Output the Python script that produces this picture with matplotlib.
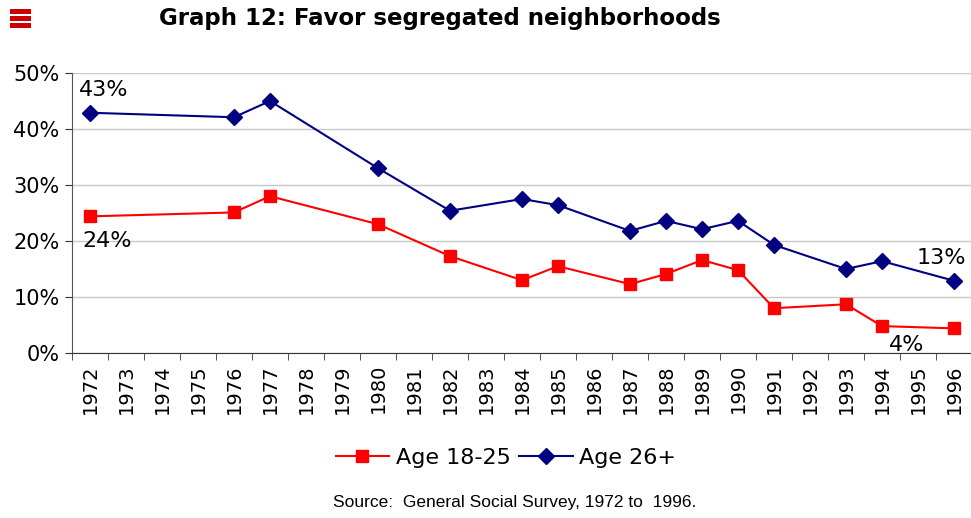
import numpy as np
import matplotlib.pyplot as plt
from matplotlib.patches import Rectangle

# Dados
anos = [str(a) for a in range(1972, 1997)]
anos_pesquisa = [1972, 1976, 1977, 1980, 1982, 1984, 1985, 1987, 1988,
                 1989, 1990, 1991, 1993, 1994, 1996]
idade_18_25 = [24.4, 25.1, 28.0, 23.0, 17.3, 13.0, 15.5, 12.3, 14.1,
               16.6, 14.8, 8.0, 8.7, 4.8, 4.4]
idade_26_mais = [42.9, 42.1, 45.0, 33.0, 25.4, 27.5, 26.4, 21.8, 23.6,
                 22.1, 23.6, 19.3, 15.0, 16.4, 12.9]

x = [a - 1972 for a in anos_pesquisa]

fig = plt.figure(figsize=(9.71, 5.18), dpi=100)
ax = fig.add_axes([72 / 971, 1 - 353 / 518, 900 / 971, 280 / 518])

ax.plot(x, idade_18_25, color='#ff0000', marker='s', markersize=8.5,
        linewidth=1.5, label='Age 18-25', clip_on=False)
ax.plot(x, idade_26_mais, color='#000080', marker='D', markersize=8,
        linewidth=1.5, label='Age 26+', clip_on=False)

ax.set_xlim(-0.5, len(anos) - 0.5)
ax.set_ylim(0, 50)
ax.set_yticks(range(0, 51, 10))
ax.set_yticklabels([f'{v}%' for v in range(0, 51, 10)], fontsize=15)
ax.set_xticks(range(len(anos)))
ax.set_xticklabels(anos, rotation=90, fontsize=14)
ax.set_xticks(np.arange(-0.5, len(anos), 1), minor=True)
ax.tick_params(axis='x', which='major', length=0, pad=8)
ax.tick_params(axis='x', which='minor', length=5, color='#333333')
ax.tick_params(axis='y', length=5, color='#333333', pad=4)

ax.grid(axis='y', color='#c8c8c8', linewidth=1)
ax.set_axisbelow(True)
for s in ['top', 'right']:
    ax.spines[s].set_visible(False)
ax.spines['left'].set_color('#555555')
ax.spines['bottom'].set_color('#333333')

# Rótulos dos valores
ax.text(-0.3, 46.9, '43%', fontsize=16, ha='left', va='center')
ax.text(-0.2, 20.0, '24%', fontsize=16, ha='left', va='center')
ax.text(22.95, 16.9, '13%', fontsize=16, ha='left', va='center')
ax.text(22.2, 1.5, '4%', fontsize=16, ha='left', va='center')

fig.text(440 / 971, 1 - 18 / 518, 'Graph 12: Favor segregated neighborhoods',
         fontsize=16.5, fontweight='bold', ha='center', va='center')

# Ícone vermelho
for y0 in [9, 16, 23]:
    fig.patches.append(Rectangle((10 / 971, 1 - (y0 + 5) / 518),
                                 21 / 971, 5 / 518, facecolor='#cc0000',
                                 edgecolor='none', antialiased=False,
                                 transform=fig.transFigure))

fig.legend(loc='center', bbox_to_anchor=(506 / 971, 1 - 458 / 518), ncol=2,
           frameon=False, fontsize=16, handlelength=2.4, handletextpad=0.3,
           columnspacing=0.4)

fig.text(515 / 971, 1 - 503 / 518, 'Source:  General Social Survey, 1972 to  1996.',
         fontsize=12.5, family='Liberation Sans', ha='center', va='center')

fig.savefig('out.png', dpi=100)
